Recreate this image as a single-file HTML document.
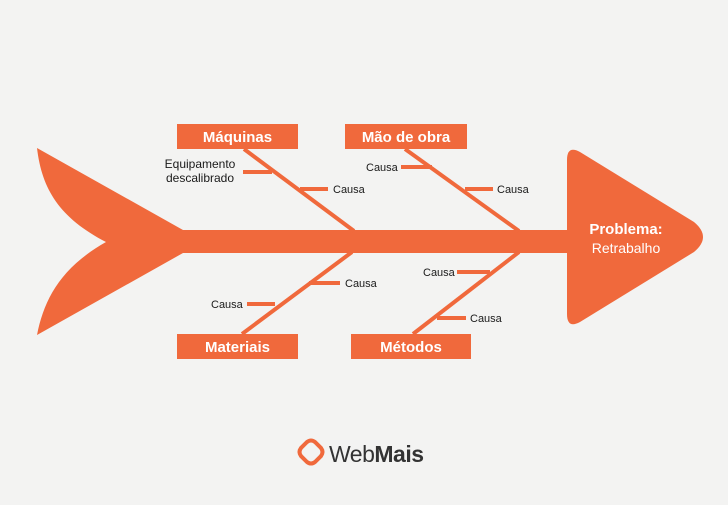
<!DOCTYPE html>
<html><head><meta charset="utf-8"><style>
html,body{margin:0;padding:0;}
body{width:728px;height:500px;background:#f3f3f2;overflow:hidden;font-family:"Liberation Sans",sans-serif;}
</style></head><body>
<svg width="728" height="500" viewBox="0 0 728 500" xmlns="http://www.w3.org/2000/svg">
<rect width="728" height="500" fill="#f3f3f2"/>
<g fill="#f0693c" stroke="none">
<path d="M37,148 L183,230 L183,253 L37,335 C44,300 60,268 106,242 C60,218 42,190 37,148 Z"/>
<rect x="180" y="230" width="392" height="23"/>
<path d="M567,160 Q567,145 580,152 L694,222 Q712,237 694,252 L580,322 Q567,329 567,314 Z"/>
<rect x="177" y="124" width="121" height="25"/>
<rect x="345" y="124" width="122" height="25"/>
<rect x="177" y="334" width="121" height="25"/>
<rect x="351" y="334" width="120" height="25"/>
</g>
<g stroke="#f0693c" stroke-width="4" fill="none">
<line x1="244" y1="149" x2="354" y2="231"/>
<line x1="405" y1="149" x2="519" y2="231"/>
<line x1="242" y1="334" x2="352" y2="252"/>
<line x1="413" y1="334" x2="519" y2="252"/>
<line x1="243" y1="172" x2="272" y2="172"/>
<line x1="300" y1="189" x2="328" y2="189"/>
<line x1="401" y1="167" x2="432" y2="167"/>
<line x1="465" y1="189" x2="493" y2="189"/>
<line x1="309" y1="283" x2="340" y2="283"/>
<line x1="247" y1="304" x2="275" y2="304"/>
<line x1="457" y1="272" x2="490" y2="272"/>
<line x1="437" y1="318" x2="466" y2="318"/>
</g>
<g font-family="Liberation Sans, sans-serif" font-weight="bold" font-size="15" fill="#fff" text-anchor="middle">
<text x="237.5" y="142">Máquinas</text>
<text x="406" y="142">Mão de obra</text>
<text x="237.5" y="352">Materiais</text>
<text x="411" y="352">Métodos</text>
<text x="626" y="234">Problema:</text>
</g>
<text x="626" y="253" font-family="Liberation Sans, sans-serif" font-size="14" fill="#fff" text-anchor="middle">Retrabalho</text>
<g font-family="Liberation Sans, sans-serif" font-size="11" fill="#1a1a1a">
<text x="200" y="168" text-anchor="middle" font-size="12">Equipamento</text>
<text x="200" y="182" text-anchor="middle" font-size="12">descalibrado</text>
<text x="333" y="193">Causa</text>
<text x="366" y="171">Causa</text>
<text x="497" y="193">Causa</text>
<text x="345" y="287">Causa</text>
<text x="211" y="308">Causa</text>
<text x="423" y="276">Causa</text>
<text x="470" y="322">Causa</text>
</g>
<g transform="translate(299,440)">
<path d="M8,2 Q12,-1 16,2 L22,8 Q25,12 22,16 L16,22 Q12,25 8,22 L2,16 Q-1,12 2,8 Z" fill="none" stroke="#f0693c" stroke-width="4"/>
</g>
<text x="329" y="462" font-family="Liberation Sans, sans-serif" font-size="23" fill="#333" letter-spacing="-0.5">Web<tspan font-weight="bold">Mais</tspan></text>
</svg>
</body></html>
